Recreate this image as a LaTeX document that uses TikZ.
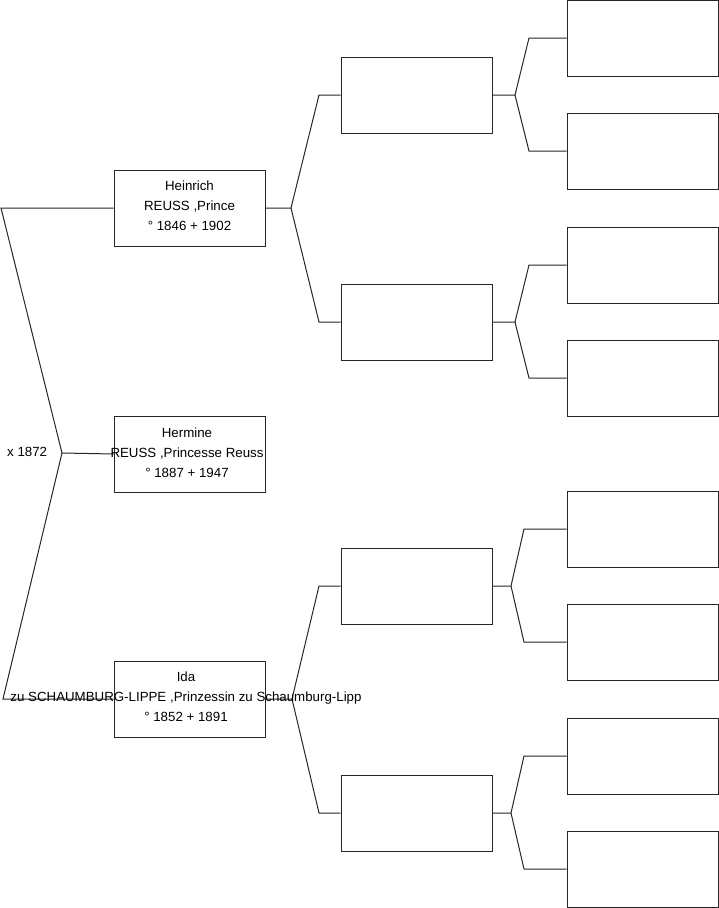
\documentclass[tikz,border=0pt]{standalone}
\usepackage{fontspec}
\setmainfont{Liberation Sans}
\begin{document}
\begin{tikzpicture}[x=1pt,y=-1pt,
  pbox/.style={draw=black!85,line width=1pt,rectangle,minimum width=151pt,minimum height=76pt,inner sep=0pt,fill=white},
  ptext/.style={align=center,inner sep=0pt,font=\fontsize{13.3}{20}\selectfont},
  conn/.style={draw=black!85,line width=1pt}]
\useasboundingbox (0,0) rectangle (719,908);
% generation 1
\node[pbox] (h) at (189.5,208) {};
\node[pbox] (he) at (189.5,454) {};
\node[pbox] (i) at (189.5,699) {};
% generation 2
\node[pbox] (a) at (416.5,95) {};
\node[pbox] (b) at (416.5,322) {};
\node[pbox] (c) at (416.5,586) {};
\node[pbox] (d) at (416.5,813) {};
% generation 3
\node[pbox] (a1) at (642.5,38) {};
\node[pbox] (a2) at (642.5,151) {};
\node[pbox] (b1) at (642.5,265) {};
\node[pbox] (b2) at (642.5,378) {};
\node[pbox] (c1) at (642.5,529) {};
\node[pbox] (c2) at (642.5,642) {};
\node[pbox] (d1) at (642.5,756) {};
\node[pbox] (d2) at (642.5,869) {};
% coordinates
\coordinate (jL) at (62,453);
\coordinate (kL1) at (1,208);
\coordinate (kL3) at (3,699);
\coordinate (jH) at (291,208);
\coordinate (kH1) at (319,95);
\coordinate (kH2) at (319,322);
\coordinate (jI) at (292,699);
\coordinate (kI1) at (319,586);
\coordinate (kI2) at (319,813);
\coordinate (jA) at (515,95);
\coordinate (kA1) at (529,38);
\coordinate (kA2) at (529,151);
\coordinate (jB) at (515,322);
\coordinate (kB1) at (529,265);
\coordinate (kB2) at (529,378);
\coordinate (jC) at (511,586);
\coordinate (kC1) at (524,529);
\coordinate (kC2) at (524,642);
\coordinate (jD) at (511,813);
\coordinate (kD1) at (524,756);
\coordinate (kD2) at (524,869);
% connectors
\draw[conn] (h.west) -- (kL1) -- (jL) -- (kL3) -- (i.west);
\draw[conn] (jL) -- (he.west);
\draw[conn] (h.east) -- (jH) -- (kH1) -- (a.west);
\draw[conn] (jH) -- (kH2) -- (b.west);
\draw[conn] (i.east) -- (jI) -- (kI1) -- (c.west);
\draw[conn] (jI) -- (kI2) -- (d.west);
\draw[conn] (a.east) -- (jA) -- (kA1) -- (a1.west);
\draw[conn] (jA) -- (kA2) -- (a2.west);
\draw[conn] (b.east) -- (jB) -- (kB1) -- (b1.west);
\draw[conn] (jB) -- (kB2) -- (b2.west);
\draw[conn] (c.east) -- (jC) -- (kC1) -- (c1.west);
\draw[conn] (jC) -- (kC2) -- (c2.west);
\draw[conn] (d.east) -- (jD) -- (kD1) -- (d1.west);
\draw[conn] (jD) -- (kD2) -- (d2.west);
% texts
\node[ptext] (th) at (189.5,206) {Heinrich\\REUSS ,Prince\\° 1846 + 1902};
\node[ptext] (the) at (187,453) {Hermine\\REUSS ,Princesse Reuss\\° 1887 + 1947};
\node[ptext] (ti) at (186,697) {Ida\\zu SCHAUMBURG-LIPPE ,Prinzessin zu Schaumburg-Lipp\\° 1852 + 1891};
\node[ptext,anchor=west] (mx) at (7,452) {x 1872};
\end{tikzpicture}
\end{document}
